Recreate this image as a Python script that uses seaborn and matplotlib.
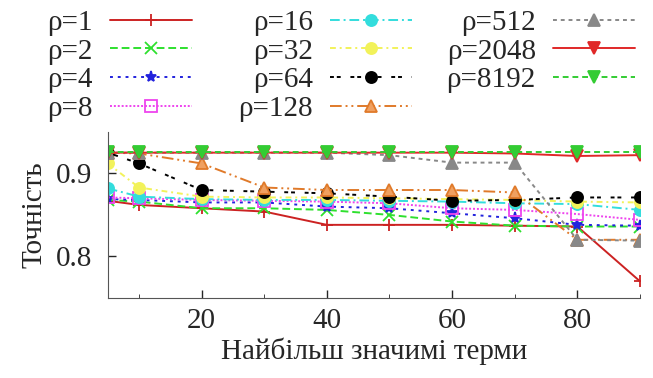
import matplotlib
matplotlib.use("Agg")
import matplotlib.pyplot as plt
import seaborn as sns
from matplotlib.ticker import MultipleLocator

# Дані: кількість термів і точність для кожного rho
terms = [5, 10, 20, 30, 40, 50, 60, 70, 80, 90]

rho_labels = ["ρ=1", "ρ=2", "ρ=4", "ρ=8", "ρ=16", "ρ=32", "ρ=64",
              "ρ=128", "ρ=512", "ρ=2048", "ρ=8192"]

acc_1 = [0.867, 0.862, 0.858, 0.854, 0.838, 0.838, 0.838, 0.837, 0.836, 0.770]
acc_2 = [0.868, 0.866, 0.858, 0.858, 0.856, 0.850, 0.842, 0.837, 0.836, 0.836]
acc_4 = [0.869, 0.868, 0.865, 0.865, 0.860, 0.858, 0.852, 0.846, 0.838, 0.837]
acc_8 = [0.871, 0.870, 0.868, 0.867, 0.866, 0.864, 0.858, 0.856, 0.851, 0.844]
acc_16 = [0.882, 0.872, 0.869, 0.868, 0.868, 0.867, 0.866, 0.864, 0.863, 0.856]
acc_32 = [0.912, 0.883, 0.872, 0.871, 0.871, 0.870, 0.869, 0.868, 0.866, 0.865]
acc_64 = [0.925, 0.912, 0.880, 0.878, 0.876, 0.872, 0.867, 0.868, 0.871, 0.871]
acc_128 = [0.925, 0.924, 0.912, 0.883, 0.880, 0.880, 0.880, 0.877, 0.820, 0.820]
acc_512 = [0.925, 0.925, 0.925, 0.925, 0.925, 0.922, 0.913, 0.913, 0.820, 0.819]
acc_2048 = [0.925, 0.925, 0.925, 0.925, 0.925, 0.925, 0.925, 0.924, 0.921, 0.922]
acc_8192 = [0.926, 0.926, 0.926, 0.926, 0.926, 0.926, 0.926, 0.926, 0.926, 0.926]

series = [acc_1, acc_2, acc_4, acc_8, acc_16, acc_32, acc_64,
          acc_128, acc_512, acc_2048, acc_8192]

# стилі у дусі gnuplot
styles = [
    dict(color="#cc2222", ls="-", marker="+", mfc="#cc2222"),
    dict(color="#2ee02e", ls=(0, (4, 2)), marker="x", mfc="#2ee02e"),
    dict(color="#2222dd", ls=(0, (1.5, 2.5)), marker="*", mfc="#2222dd"),
    dict(color="#ee44ee", ls=(0, (1, 1)), marker="s", mfc="none"),
    dict(color="#33dddd", ls=(0, (5, 2, 1, 2)), marker="o", mfc="#33dddd"),
    dict(color="#f2f25a", ls=(0, (3, 2, 1, 2)), marker="o", mfc="#f2f25a"),
    dict(color="black", ls=(0, (2, 1.5, 2, 5)), marker="o", mfc="black"),
    dict(color="#e07a2a", ls=(0, (6, 2, 1, 2, 1, 2)), marker="^", mfc="#f0a060"),
    dict(color="#888888", ls=(0, (2, 2)), marker="^", mfc="#888888"),
    dict(color="#e02828", ls="-", marker="v", mfc="#e02828"),
    dict(color="#33cc33", ls=(0, (3, 2)), marker="v", mfc="#33cc33"),
]

sns.set_style("ticks")
plt.rcParams["font.family"] = ["Liberation Serif", "DejaVu Serif"]

fs = 21

fig = plt.figure(figsize=(6.53, 3.78), dpi=100)
ax = fig.add_axes([0.165, 0.212, 0.815, 0.439])

for lab, vals, st in zip(rho_labels, series, styles):
    sns.lineplot(x=terms, y=vals, ax=ax, label=lab, color=st["color"],
                 linestyle=st["ls"], marker=st["marker"], markersize=8,
                 markerfacecolor=st["mfc"], markeredgecolor=st["color"],
                 markeredgewidth=1.3, linewidth=1.4, legend=False)

ax.set_xlim(5, 90)
ax.set_ylim(0.75, 0.95)
ax.xaxis.set_major_locator(MultipleLocator(20))
ax.xaxis.set_minor_locator(MultipleLocator(10))
ax.set_yticks([0.8, 0.9])
ax.tick_params(axis="both", direction="in", labelsize=fs, length=6, width=1)
ax.tick_params(axis="y", pad=11)
ax.tick_params(axis="x", pad=7)
ax.tick_params(which="minor", direction="in", length=3)
sns.despine(ax=ax)
ax.spines["left"].set_color("#555555")
ax.spines["bottom"].set_color("#555555")

ax.set_xlabel("Найбільш значимі терми", fontsize=fs, labelpad=3)
ax.set_ylabel("Точність", fontsize=fs, labelpad=6)

# легенда у три колонки, текст вирівняно праворуч
handles, labels = ax.get_legend_handles_labels()
col_groups = [(0, 4, 192), (4, 8, 412), (8, 11, 635)]
for start, stop, right_px in col_groups:
    leg = fig.legend(handles[start:stop], labels[start:stop], loc="upper right",
                     bbox_to_anchor=(right_px / 653, 0.975), frameon=False,
                     markerfirst=False, fontsize=fs, handlelength=2.8,
                     handletextpad=0.6, labelspacing=0.08, borderpad=0,
                     borderaxespad=0)

fig.savefig("out.png", dpi=100)
